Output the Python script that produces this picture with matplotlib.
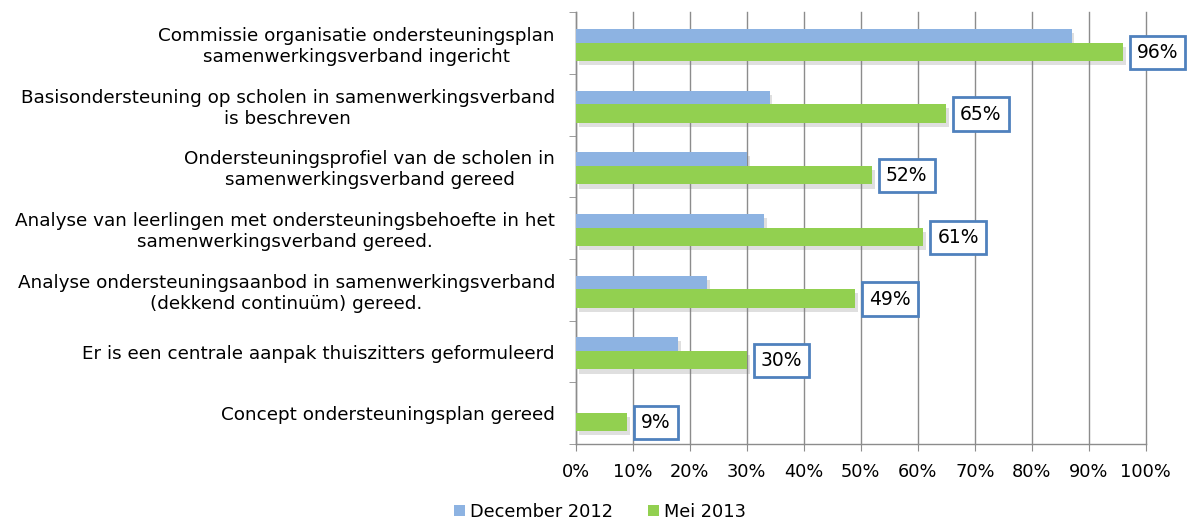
import matplotlib
matplotlib.use("Agg")
import matplotlib.pyplot as plt
import matplotlib.patheffects as pe
from matplotlib.patches import Patch
import numpy as np

categories = [
    "Commissie organisatie ondersteuningsplan\nsamenwerkingsverband ingericht",
    "Basisondersteuning op scholen in samenwerkingsverband\nis beschreven",
    "Ondersteuningsprofiel van de scholen in\nsamenwerkingsverband gereed",
    "Analyse van leerlingen met ondersteuningsbehoefte in het\nsamenwerkingsverband gereed.",
    "Analyse ondersteuningsaanbod in samenwerkingsverband\n(dekkend continuüm) gereed.",
    "Er is een centrale aanpak thuiszitters geformuleerd",
    "Concept ondersteuningsplan gereed",
]
dec_2012 = [87, 34, 30, 33, 23, 18, 0]
mei_2013 = [96, 65, 52, 61, 49, 30, 9]
series_names = ["December 2012", "Mei 2013"]
x_ticks = [0, 10, 20, 30, 40, 50, 60, 70, 80, 90, 100]

blue = "#8DB3E2"
green = "#92D050"
grid_c = "#8C8C8C"

plt.rcParams['font.family'] = ['DejaVu Sans']

fig = plt.figure(figsize=(11.93, 5.23), dpi=100)
ax = fig.add_axes([0.4826, 0.151, 0.4778, 0.8255])

y = np.arange(len(categories))
h = 0.30
shadow = [pe.SimplePatchShadow(offset=(2, -3), shadow_rgbFace="#808080", alpha=0.25), pe.Normal()]

b1 = ax.barh(y - 0.08, dec_2012, height=h, color=blue, zorder=3)
b2 = ax.barh(y + 0.14, mei_2013, height=h, color=green, zorder=4)
for bar in list(b1) + list(b2):
    if bar.get_width() > 0:
        bar.set_path_effects(shadow)

for yi, v in zip(y, mei_2013):
    ax.annotate(f"{v}%", xy=(v, yi + 0.15), xytext=(10, 0), textcoords="offset points",
                ha="left", va="center", fontsize=13.5, color="black", zorder=6,
                bbox=dict(boxstyle="square,pad=0.38", facecolor="white",
                          edgecolor="#4F81BD", linewidth=2))

ax.set_xlim(0, 100)
ax.set_ylim(len(categories) - 0.5, -0.5)
ax.set_xticks(x_ticks)
ax.set_xticklabels([f"{t}%" for t in x_ticks], fontsize=12.8)
ax.set_yticks(y)
ax.set_yticklabels(categories, fontsize=13.2, multialignment="center")
ax.set_yticks(np.arange(-0.5, len(categories), 1.0), minor=True)
ax.tick_params(axis="y", which="major", length=0, pad=15)
ax.tick_params(axis="y", which="minor", length=5, color=grid_c, direction="out")
ax.tick_params(axis="x", length=5, color=grid_c, direction="out", pad=9)

ax.grid(axis="x", color=grid_c, linewidth=1, zorder=0)
ax.set_axisbelow(True)
for gl in ax.get_xgridlines():
    gl.set_clip_on(False)
for s in ["top", "right"]:
    ax.spines[s].set_visible(False)
for s in ["left", "bottom"]:
    ax.spines[s].set_color(grid_c)
    ax.spines[s].set_linewidth(1)

handles = [Patch(facecolor=blue, edgecolor="none"), Patch(facecolor=green, edgecolor="none")]
fig.legend(handles, series_names, loc="center", bbox_to_anchor=(0.503, 0.021), ncol=2,
           frameon=False, fontsize=12.8, handlelength=0.6, handleheight=0.6,
           handletextpad=0.3, columnspacing=2.0)

fig.savefig("out.png", dpi=100)
